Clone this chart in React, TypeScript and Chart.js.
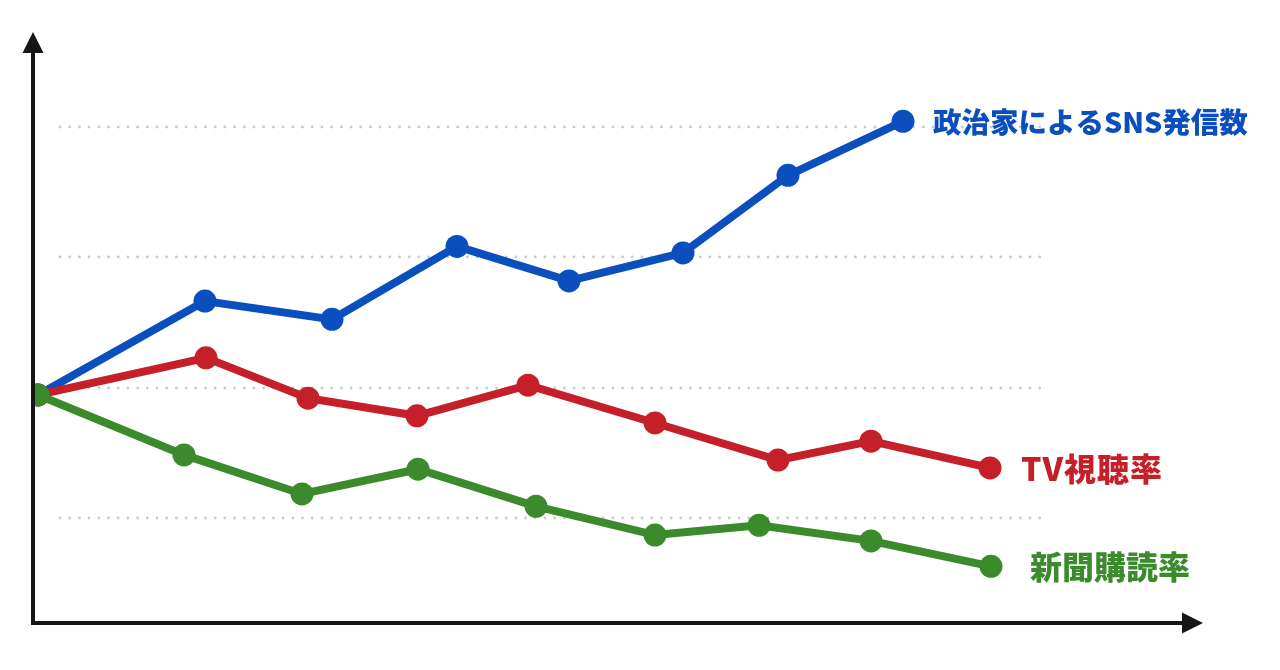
import { useEffect, useRef } from "react";
import { Chart, registerables } from "chart.js";

Chart.register(...registerables);

// series names, shown as labels at the end of each line
const SERIES_NAMES = ["新聞購読率", "TV視聴率", "政治家によるSNS発信数"];

// x positions (arbitrary time units) and values per series
const NEWSPAPER_X = [0.3, 14.9, 26.7, 38.3, 50.1, 62.0, 72.4, 83.6, 95.6];
const NEWSPAPER_Y = [38.9, 29.7, 23.7, 27.5, 21.8, 17.4, 18.9, 16.5, 12.6];

const TV_X = [0.3, 17.1, 27.3, 38.2, 49.3, 62.0, 74.3, 83.6, 95.5];
const TV_Y = [38.9, 44.6, 38.4, 35.7, 40.4, 34.6, 28.9, 31.8, 27.7];

const SNS_X = [0.3, 17.0, 29.7, 42.2, 53.4, 64.8, 75.3, 86.8];
const SNS_Y = [38.9, 53.3, 50.5, 61.7, 56.4, 60.7, 72.6, 80.9];

// dotted reference lines
const GRID_VALUES = [20, 40, 60, 80];

const COLORS = ["#3b8a2c", "#c51f2a", "#0b4fbf"];
const LABEL_OFFSETS = [39, 31, 30];
const LABEL_SIZES = [32, 32, 28.5];
const LABEL_SPACING = ["0px", "1px", "0px"];

function toPoints(xs: number[], ys: number[]) {
  return xs.map((x, i) => ({ x, y: ys[i] }));
}

const axesPlugin = {
  id: "arrowAxes",
  beforeDatasetsDraw(chart: Chart) {
    const { ctx, scales } = chart;
    const x = scales.x;
    const y = scales.y;
    const from = x.getPixelForValue(2.5);
    const to = x.getPixelForValue(100.8);
    ctx.save();
    ctx.strokeStyle = "#cacaca";
    ctx.lineWidth = 2.8;
    ctx.lineCap = "round";
    ctx.setLineDash([0, 9.7]);
    for (const v of GRID_VALUES) {
      const py = Math.round(y.getPixelForValue(v));
      ctx.beginPath();
      ctx.moveTo(from, py);
      ctx.lineTo(to, py);
      ctx.stroke();
    }
    ctx.restore();
  },
  afterDatasetsDraw(chart: Chart) {
    const { ctx, chartArea } = chart;
    const left = chartArea.left - 2;
    const bottom = chartArea.bottom;
    ctx.save();
    ctx.strokeStyle = "#161616";
    ctx.fillStyle = "#161616";
    ctx.lineWidth = 4;
    ctx.beginPath();
    ctx.moveTo(left, bottom + 2);
    ctx.lineTo(left, chartArea.top + 18);
    ctx.moveTo(left - 2, bottom);
    ctx.lineTo(chartArea.right - 18, bottom);
    ctx.stroke();
    // arrow heads
    ctx.beginPath();
    ctx.moveTo(left, chartArea.top);
    ctx.lineTo(left - 10.5, chartArea.top + 21);
    ctx.lineTo(left + 10.5, chartArea.top + 21);
    ctx.closePath();
    ctx.fill();
    ctx.beginPath();
    ctx.moveTo(chartArea.right, bottom);
    ctx.lineTo(chartArea.right - 21, bottom - 10.5);
    ctx.lineTo(chartArea.right - 21, bottom + 10.5);
    ctx.closePath();
    ctx.fill();

    // series labels at the end of each line
    ctx.textBaseline = "middle";
    ctx.textAlign = "left";
    chart.data.datasets.forEach((ds, i) => {
      const meta = chart.getDatasetMeta(i);
      const last = meta.data[meta.data.length - 1];
      ctx.font = `900 ${LABEL_SIZES[i]}px "Noto Sans CJK JP", "Noto Sans", sans-serif`;
      (ctx as any).letterSpacing = LABEL_SPACING[i];
      ctx.fillStyle = COLORS[i];
      ctx.fillText(String(ds.label), last.x + LABEL_OFFSETS[i], last.y + 1);
    });
    ctx.restore();
  },
};

export default function App() {
  const canvasRef = useRef<HTMLCanvasElement | null>(null);

  useEffect(() => {
    if (!canvasRef.current) return;
    const series = [
      toPoints(NEWSPAPER_X, NEWSPAPER_Y),
      toPoints(TV_X, TV_Y),
      toPoints(SNS_X, SNS_Y),
    ];

    const chart = new Chart(canvasRef.current, {
      type: "line",
      data: {
        datasets: series.map((data, i) => ({
          label: SERIES_NAMES[i],
          data,
          borderColor: COLORS[i],
          backgroundColor: COLORS[i],
          pointBackgroundColor: COLORS[i],
          pointBorderWidth: 0,
          pointRadius: 11.5,
          borderWidth: 8,
          tension: 0,
          clip: { left: 0, top: false, right: false, bottom: false },
        })),
      },
      options: {
        animation: false,
        responsive: false,
        maintainAspectRatio: false,
        layout: { padding: { left: 35, right: 77, top: 32, bottom: 47 } },
        plugins: {
          legend: { display: false },
          tooltip: { enabled: false },
        },
        scales: {
          x: { type: "linear", min: 0, max: 116.8, display: false },
          y: { type: "linear", min: 3.9, max: 94.6, display: false },
        },
      },
      plugins: [axesPlugin],
    });

    return () => chart.destroy();
  }, []);

  return (
    <div style={{ position: "fixed", left: 0, top: 0, width: 1280, height: 670, background: "#fff" }}>
      <canvas ref={canvasRef} width={1280} height={670} style={{ width: 1280, height: 670 }} />
    </div>
  );
}
